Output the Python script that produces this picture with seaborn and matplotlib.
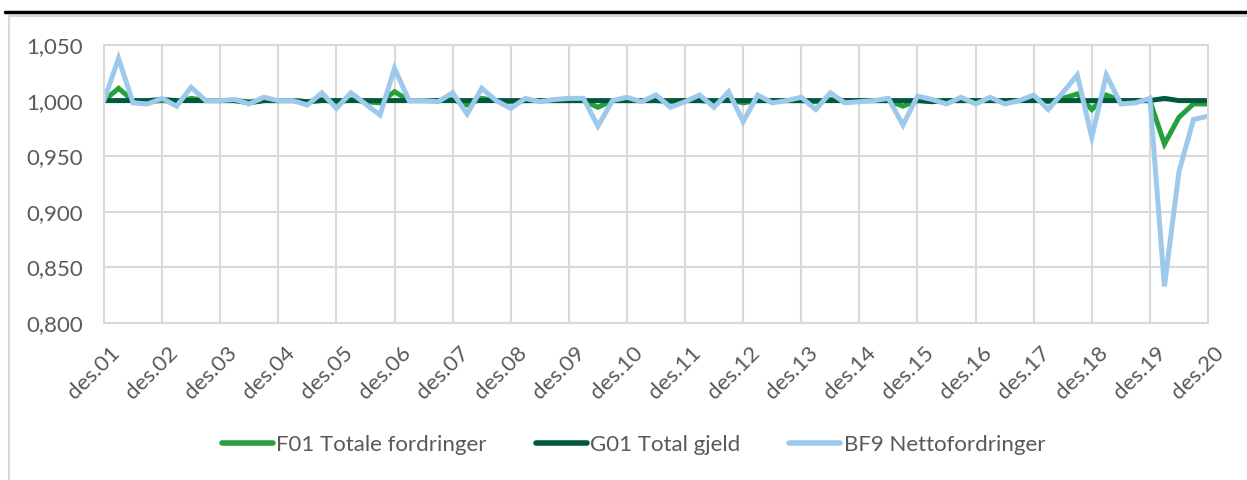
import pandas as pd
import matplotlib.pyplot as plt
import matplotlib.transforms as mtransforms
import seaborn as sns
import numpy as np
from matplotlib.patches import Rectangle
from matplotlib.lines import Line2D

sns.set_style("white")
plt.rcParams['font.family'] = ['Lato', 'DejaVu Sans']

# quarterly values, des.01 to des.20
f01 = [1.000, 1.011, 1.000, 0.999, 1.000, 0.999, 1.002, 1.000, 1.000, 1.000,
       0.999, 1.000, 1.000, 1.000, 0.999, 1.001, 0.998, 1.001, 0.999, 0.998,
       1.008, 1.000, 1.000, 1.000, 1.001, 0.996, 1.002, 1.000, 0.999, 1.000,
       1.000, 1.000, 1.000, 1.000, 0.994, 1.000, 1.000, 1.000, 1.000, 0.999,
       1.000, 1.000, 0.999, 1.001, 0.998, 1.000, 1.000, 1.000, 1.000, 0.999,
       1.001, 1.000, 1.000, 1.000, 1.000, 0.995, 1.000, 1.000, 1.000, 1.000,
       1.000, 1.000, 1.000, 1.000, 1.001, 0.999, 1.002, 1.006, 0.992, 1.005,
       1.000, 1.000, 1.000, 0.961, 0.985, 0.997, 0.997]
g01 = [1.000, 1.000, 1.000, 1.000, 1.001, 1.000, 1.000, 1.000, 1.000, 1.000,
       0.998, 1.000, 1.000, 1.000, 0.999, 1.000, 1.000, 1.000, 1.000, 1.000,
       1.000, 1.000, 1.000, 1.000, 1.000, 1.000, 1.000, 1.000, 1.000, 1.000,
       1.000, 1.000, 1.000, 1.000, 1.000, 1.000, 1.000, 1.000, 1.000, 1.000,
       1.000, 1.000, 1.000, 1.000, 1.000, 1.000, 1.000, 1.000, 1.000, 1.000,
       1.000, 1.000, 1.000, 1.000, 1.000, 1.000, 1.000, 0.999, 1.000, 1.000,
       1.000, 1.000, 1.000, 1.000, 1.000, 1.000, 1.000, 1.000, 1.000, 1.000,
       1.000, 1.000, 1.000, 1.002, 1.000, 1.000, 1.000]
bf9 = [1.000, 1.038, 0.998, 0.997, 1.002, 0.995, 1.012, 1.000, 1.000, 1.001,
       0.997, 1.003, 1.000, 1.000, 0.996, 1.007, 0.993, 1.007, 0.997, 0.987,
       1.029, 1.000, 1.000, 0.999, 1.007, 0.988, 1.011, 1.000, 0.993, 1.002,
       0.999, 1.001, 1.002, 1.002, 0.977, 1.000, 1.003, 0.999, 1.005, 0.994,
       0.999, 1.005, 0.994, 1.008, 0.981, 1.005, 0.998, 1.000, 1.003, 0.992,
       1.007, 0.998, 0.999, 1.000, 1.002, 0.978, 1.004, 1.001, 0.997, 1.003,
       0.997, 1.003, 0.997, 1.000, 1.005, 0.992, 1.007, 1.023, 0.967, 1.023,
       0.997, 0.998, 1.002, 0.833, 0.936, 0.983, 0.986]
series_names = ["F01 Totale fordringer", "G01 Total gjeld", "BF9 Nettofordringer"]
year_labels = ["des.%02d" % y for y in range(1, 21)]

quarter = np.arange(len(bf9))
df = pd.DataFrame({"kvartal": quarter, series_names[0]: f01,
                   series_names[1]: g01, series_names[2]: bf9})
dfMelt = pd.melt(df, id_vars=["kvartal"], value_vars=series_names,
                 var_name="serie", value_name="verdi")

colors = ["#25A03A", "#00583F", "#9CC9EC"]
grey = "#595959"

fig = plt.figure(figsize=(12.47, 4.8), dpi=100)
ax = fig.add_axes([104 / 1247, 1 - 323 / 480, 1104 / 1247, 278 / 480])

sns.lineplot(data=dfMelt, x="kvartal", y="verdi", hue="serie", palette=colors,
             linewidth=3.6, ax=ax, legend=False, solid_joinstyle="miter")

ax.set_xlim(0, 76)
ax.set_ylim(0.8, 1.05)
ax.set_xticks(np.arange(0, 77, 4))
ax.set_xticklabels(year_labels, rotation=45, ha="right", va="top",
                   rotation_mode="anchor")
ax.set_yticks(np.arange(0.8, 1.0501, 0.05))
ax.set_yticklabels([("%.3f" % v).replace(".", ",") for v in ax.get_yticks()])
ax.tick_params(axis="both", length=0, labelsize=16, labelcolor=grey)
ax.tick_params(axis="y", pad=15)
ax.tick_params(axis="x", pad=14)
# shift the rotated labels a little to the right, like the excel original
offset = mtransforms.ScaledTranslation(6 / 100, 0, fig.dpi_scale_trans)
for lab in ax.get_xticklabels():
    lab.set_transform(lab.get_transform() + offset)
ax.grid(True, color="#D9D9D9", linewidth=1.5)
ax.set_axisbelow(True)
for s in ax.spines.values():
    s.set_color("#D9D9D9")
    s.set_linewidth(1.5)
ax.set_xlabel("")
ax.set_ylabel("")

# legend below the chart
handles = [Line2D([0], [0], color=c, linewidth=4, solid_capstyle="round") for c in colors]
fig.legend(handles, series_names, loc="center", bbox_to_anchor=(0.508, 0.073),
           ncol=3, frameon=False, fontsize=16, labelcolor=grey,
           handlelength=2.3, handletextpad=0.15, columnspacing=2.2)

# chart frame and rule above it
fig.add_artist(Rectangle((9 / 1247, -0.1), 1.2, 1.1 - 16 / 480, transform=fig.transFigure,
                         fill=False, edgecolor="#D9D9D9", linewidth=1.5))
fig.add_artist(Line2D([5 / 1247, 1], [1 - 12 / 480, 1 - 12 / 480],
                      transform=fig.transFigure, color="black", linewidth=2.5))

plt.savefig("out.png", dpi=100)
